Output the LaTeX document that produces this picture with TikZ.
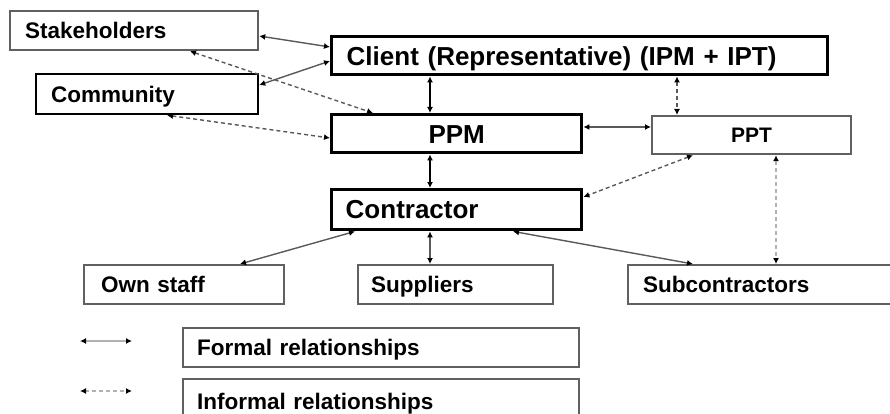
\documentclass[tikz,border=0pt]{standalone}
\usepackage{fontspec}
\setmainfont{Liberation Sans}
\usetikzlibrary{arrows.meta}
\begin{document}
\begin{tikzpicture}[x=1pt,y=-1pt,
  box/.style={draw=gray!75!black, line width=2.2pt, rectangle, anchor=north west, inner ysep=0pt, inner xsep=0pt, align=left, text height=16.2pt, text depth=0pt, font=\fontsize{22.5}{24}\selectfont\bfseries},
  bigbox/.style={box, draw=black, line width=3.4pt, text height=18.7pt, font=\fontsize{26}{28}\selectfont\bfseries},
  formal/.style={draw=gray!70!black, line width=1.4pt, {Latex[length=6pt,width=6pt,black]}-{Latex[length=6pt,width=6pt,black]}},
  informal/.style={formal, dash pattern=on 4pt off 3pt},
]
\useasboundingbox (0,0) rectangle (890,414);
\begin{scope}
\clip (0,0) rectangle (890,414);
\node[box, minimum width=248pt, minimum height=39pt, text width=248pt] (stake) at (9,10) {\hspace*{15pt}Stakeholders};
\node[bigbox, minimum width=496pt, minimum height=38pt, text width=496pt, text depth=-2pt] (client) at (330,35) {\hspace*{15pt}Client (Representative) (IPM + IPT)};
\node[box, draw=black, minimum width=222pt, minimum height=40pt, text width=222pt] (comm) at (35,73) {\hspace*{15pt}Community};
\node[bigbox, minimum width=250pt, minimum height=38pt, text width=250pt, align=center] (ppm) at (330,113) {PPM};
\node[box, minimum width=199pt, minimum height=38pt, text width=199pt, align=center, text height=15pt, font=\fontsize{21}{23}\selectfont\bfseries] (ppt) at (651,115) {PPT};
\node[bigbox, minimum width=250pt, minimum height=40pt, text width=250pt, text depth=2pt] (contr) at (330,188) {\hspace*{14pt}Contractor};
\node[box, minimum width=200pt, minimum height=39pt, text width=200pt] (own) at (83,264) {\hspace*{17pt}Own staff};
\node[box, minimum width=195pt, minimum height=39pt, text width=195pt] (sup) at (357,264) {\hspace*{13pt}Suppliers};
\node[box, minimum width=275pt, minimum height=39pt, text width=275pt] (sub) at (627,264) {\hspace*{15pt}Subcontractors};
\node[box, minimum width=396pt, minimum height=39pt, text width=396pt, text depth=-3pt] (lf) at (182,327) {\hspace*{14pt}Formal relationships};
\node[box, minimum width=396pt, minimum height=44pt, text width=396pt] (li) at (182,378) {\hspace*{14pt}Informal relationships};
\end{scope}
\coordinate (f1) at (80,341);
\coordinate (f2) at (132,341);
\coordinate (i1) at (80,391);
\coordinate (i2) at (132,391);
\draw[formal] (stake.east |- 0,36) -- (client.west |- 0,47);
\draw[formal] (comm.east |- 0,85) -- (client.west |- 0,61);
\draw[informal] (stake.south -| 190,0) -- (ppm.north -| 373,0);
\draw[informal] (comm.south -| 167,0) -- (ppm.west |- 0,138);
\draw[formal, draw=black, line width=1.8pt] (client.south -| 430,0) -- (ppm.north -| 430,0);
\draw[informal] (client.south -| 677,0) -- (ppt.north -| 677,0);
\draw[formal] (ppm.east |- 0,127) -- (ppt.west |- 0,127);
\draw[formal, draw=black, line width=1.8pt] (ppm.south -| 430,0) -- (contr.north -| 430,0);
\draw[informal] (ppt.south -| 693,0) -- (contr.east |- 0,197);
\draw[informal, draw=gray!60] (ppt.south -| 776,0) -- (sub.north -| 776,0);
\draw[formal] (contr.south -| 355,0) -- (own.north -| 240,0);
\draw[formal] (contr.south -| 430,0) -- (sup.north -| 430,0);
\draw[formal] (contr.south -| 513,0) -- (sub.north -| 693,0);
\draw[formal, draw=gray!60] (f1) -- (f2);
\draw[informal, draw=gray!60] (i1) -- (i2);
\end{tikzpicture}
\end{document}
